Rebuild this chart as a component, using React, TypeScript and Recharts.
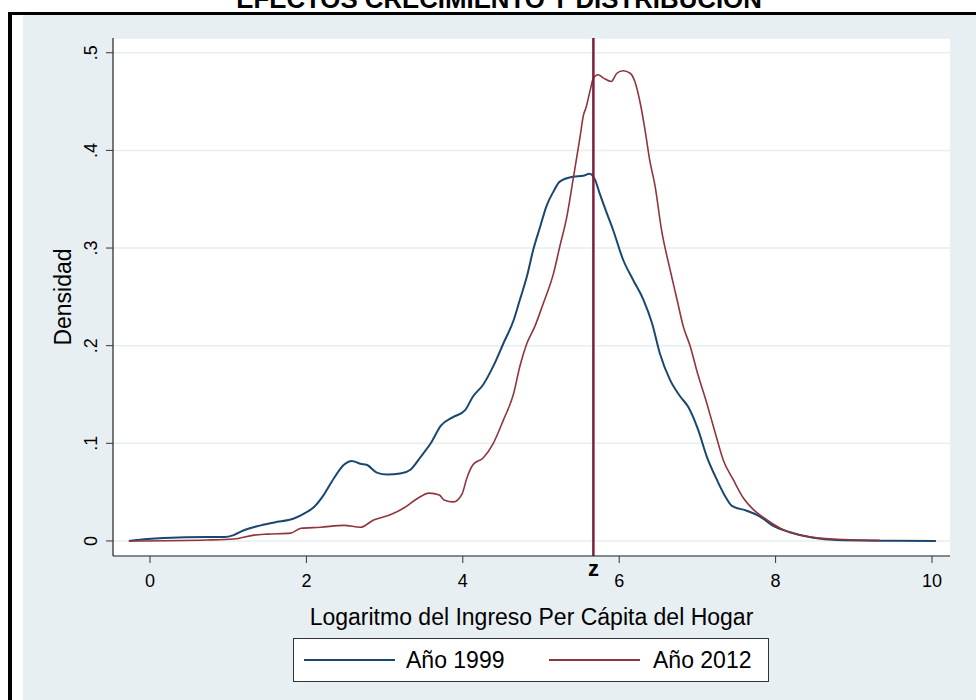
import { LineChart, Line, XAxis, YAxis, CartesianGrid, ReferenceLine, Legend } from "recharts"

// kernel density, log household per-capita income
const x1999 = [-0.27, -0.03, 0.18, 0.73, 0.95, 1.07, 1.2, 1.37, 1.59, 1.84, 1.97, 2.1, 2.22, 2.35, 2.48, 2.58, 2.69, 2.77, 2.9, 3.03, 3.2, 3.33, 3.46, 3.59, 3.72, 3.88, 4.03, 4.13, 4.26, 4.39, 4.52, 4.65, 4.73, 4.82, 4.9, 4.99, 5.07, 5.16, 5.24, 5.41, 5.54, 5.62, 5.69, 5.75, 5.84, 5.92, 6.05, 6.18, 6.31, 6.42, 6.52, 6.65, 6.78, 6.88, 7.01, 7.12, 7.25, 7.37, 7.44, 7.63, 7.8, 7.97, 8.18, 8.48, 8.78, 9.3, 10.05]
const y1999 = [0, 0.002, 0.003, 0.004, 0.004, 0.006, 0.011, 0.015, 0.019, 0.023, 0.028, 0.035, 0.047, 0.064, 0.078, 0.082, 0.079, 0.078, 0.07, 0.068, 0.069, 0.073, 0.086, 0.1, 0.118, 0.127, 0.134, 0.148, 0.16, 0.179, 0.2025, 0.226, 0.247, 0.271, 0.298, 0.322, 0.343, 0.358, 0.368, 0.373, 0.374, 0.376, 0.37, 0.356, 0.336, 0.319, 0.288, 0.267, 0.247, 0.223, 0.192, 0.165, 0.148, 0.1376, 0.1137, 0.0864, 0.0625, 0.0437, 0.036, 0.031, 0.025, 0.0154, 0.009, 0.0034, 0.001, 0.0003, 0]

const x2012 = [-0.27, 0.73, 1.07, 1.33, 1.5, 1.8, 1.93, 2.18, 2.48, 2.69, 2.86, 3.08, 3.25, 3.41, 3.57, 3.7, 3.76, 3.88, 3.99, 4.05, 4.13, 4.26, 4.39, 4.52, 4.65, 4.73, 4.82, 4.92, 5.03, 5.16, 5.24, 5.33, 5.41, 5.5, 5.54, 5.58, 5.63, 5.67, 5.73, 5.8, 5.9, 5.97, 6.05, 6.14, 6.2, 6.27, 6.33, 6.39, 6.46, 6.54, 6.65, 6.74, 6.82, 6.91, 6.99, 7.12, 7.23, 7.33, 7.46, 7.59, 7.72, 7.89, 8.06, 8.23, 8.48, 8.87, 9.33]
const y2012 = [0, 0.001, 0.002, 0.006, 0.007, 0.008, 0.013, 0.014, 0.016, 0.014, 0.0215, 0.027, 0.034, 0.043, 0.049, 0.047, 0.042, 0.04, 0.048, 0.064, 0.078, 0.085, 0.1, 0.124, 0.151, 0.179, 0.2025, 0.2195, 0.2435, 0.274, 0.3015, 0.332, 0.37, 0.414, 0.435, 0.445, 0.462, 0.474, 0.4775, 0.474, 0.4706, 0.479, 0.4816, 0.479, 0.4706, 0.448, 0.421, 0.39, 0.363, 0.319, 0.278, 0.247, 0.2195, 0.199, 0.175, 0.141, 0.11, 0.083, 0.0625, 0.0437, 0.0318, 0.0215, 0.013, 0.0079, 0.0037, 0.0015, 0.0008]

const xTicks = [0, 2, 4, 6, 8, 10]
const yTicks = [0, 0.1, 0.2, 0.3, 0.4, 0.5]
const zValue = 5.67
const seriesNames = ["Año 1999", "Año 2012"]

const data1999 = x1999.map((x, i) => ({ x, y: y1999[i] }))
const data2012 = x2012.map((x, i) => ({ x, y: y2012[i] }))

const FONT = "'Liberation Sans', Arial, sans-serif"
const BG = "#e8eff2"
const NAVY = "#1a476f"
const MAROON = "#90353b"

function YTick({ x, y, payload }: any) {
  const bx = x - 7
  const v = payload.value
  const label = v === 0 ? "0" : String(v).replace(/^0/, "")
  return (
    <text x={bx} y={y} transform={`rotate(-90 ${bx} ${y})`} textAnchor="middle" fontSize={18} fill="#000" fontFamily={FONT}>
      {label}
    </text>
  )
}

function YLabel({ viewBox }: any) {
  const cy = viewBox.y + viewBox.height / 2
  const bx = 71
  return (
    <text x={bx} y={cy} transform={`rotate(-90 ${bx} ${cy})`} textAnchor="middle" fontSize={23} fill="#000" fontFamily={FONT}>
      Densidad
    </text>
  )
}

const legendSlots = [
  { line: 10, text: 112 },
  { line: 255, text: 359 },
]

function LegendBox({ payload }: any) {
  const items = payload && payload.length ? payload : seriesNames.map((n, i) => ({ value: n, color: i ? MAROON : NAVY }))
  return (
    <div style={{ width: 476, height: 44, boxSizing: "border-box", border: "1.5px solid #333", background: "#fff" }}>
      <svg width={473} height={41} style={{ display: "block" }}>
        {items.map((it: any, i: number) => (
          <g key={i}>
            <line x1={legendSlots[i].line} x2={legendSlots[i].line + 91} y1={21} y2={21} stroke={it.color} strokeWidth={2} />
            <text x={legendSlots[i].text} y={29} fontSize={23} fill="#000" fontFamily={FONT}>
              {it.value}
            </text>
          </g>
        ))}
      </svg>
    </div>
  )
}

export default function App() {
  return (
    <div style={{ position: "absolute", left: 0, top: 0, width: 976, height: 700, background: "#fff", overflow: "hidden", fontFamily: FONT }}>
      <div style={{ position: "absolute", left: 8, top: 12, right: 0, bottom: 0, borderLeft: "4px solid #000", borderTop: "3px solid #000" }} />
      <div style={{ position: "absolute", left: 23, top: 15, right: 0, bottom: 0, background: BG }} />
      <svg width={976} height={20} style={{ position: "absolute", left: 0, top: 0 }}>
        <text x={499} y={8} textAnchor="middle" fontWeight="bold" fontSize={25.8} fill="#000" fontFamily={FONT}>
          EFECTOS CRECIMIENTO Y DISTRIBUCIÓN
        </text>
      </svg>
      <div style={{ position: "absolute", left: 0, top: 0 }}>
        <LineChart width={976} height={700} margin={{ top: 38, right: 26, bottom: 75, left: 0 }}>
          <CartesianGrid vertical={false} stroke="#e6eef0" strokeWidth={1.5} fill="#fff" />
          <XAxis
            type="number"
            dataKey="x"
            domain={[-0.473, 10.23]}
            allowDataOverflow
            ticks={xTicks}
            height={69}
            tickSize={7}
            tickMargin={11}
            axisLine={{ stroke: "#222", strokeWidth: 1.2 }}
            tickLine={{ stroke: "#333" }}
            tick={{ fontSize: 18, fill: "#000", fontFamily: FONT }}
            label={{ value: "Logaritmo del Ingreso Per Cápita del Hogar", position: "insideBottom", offset: 0, fontSize: 23, fill: "#000", fontFamily: FONT }}
          />
          <YAxis
            type="number"
            dataKey="y"
            domain={[-0.0154, 0.5151]}
            allowDataOverflow
            ticks={yTicks}
            width={113}
            tickSize={7}
            tickMargin={2}
            axisLine={{ stroke: "#222", strokeWidth: 1.2 }}
            tickLine={{ stroke: "#333" }}
            tick={<YTick />}
            label={{ content: (p: any) => <YLabel {...p} /> }}
          />
          <Line data={data1999} dataKey="y" name={seriesNames[0]} type="monotone" stroke={NAVY} strokeWidth={2} dot={false} activeDot={false} isAnimationActive={false} />
          <Line data={data2012} dataKey="y" name={seriesNames[1]} type="monotone" stroke={MAROON} strokeWidth={1.6} dot={false} activeDot={false} isAnimationActive={false} />
          <ReferenceLine
            x={zValue}
            stroke="#7e1e3c"
            strokeWidth={2.5}
            label={{ value: "z", position: "bottom", offset: 4, fontSize: 22, fontWeight: "bold", fill: "#000", fontFamily: FONT }}
          />
          <Legend
            layout="vertical"
            align="center"
            verticalAlign="middle"
            content={<LegendBox />}
            wrapperStyle={{ position: "absolute", left: 293, top: 638, width: 476, height: 44 }}
          />
        </LineChart>
      </div>
    </div>
  )
}
